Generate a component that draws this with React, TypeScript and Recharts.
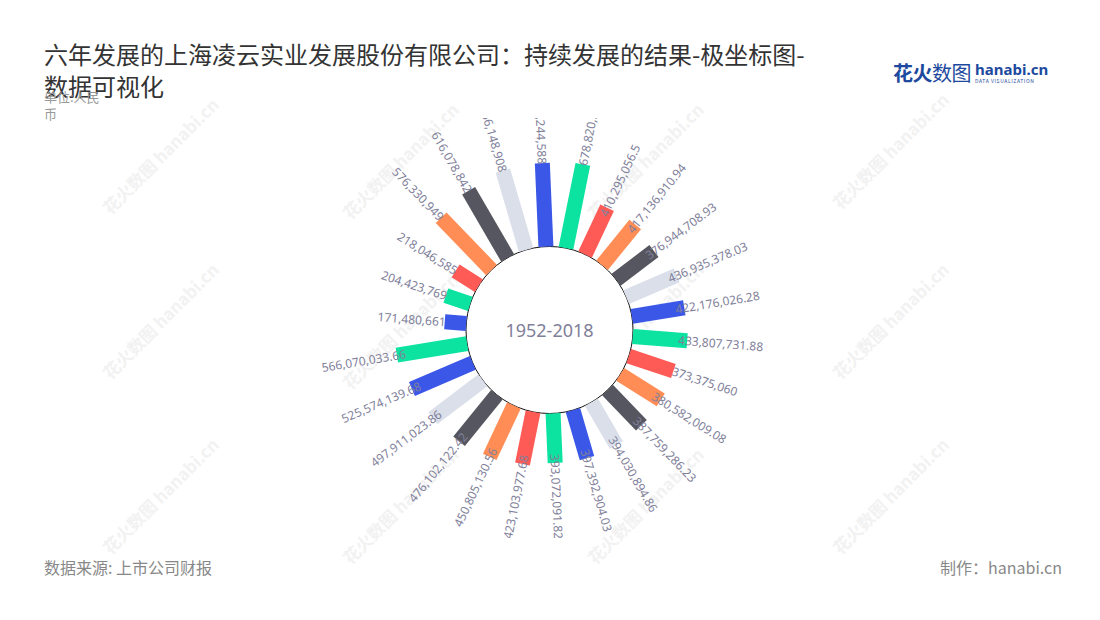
import React from 'react';
import { RadialBarChart, RadialBar, PolarAngleAxis, PolarRadiusAxis, Cell } from 'recharts';

const categories = ['1', '2', '3', '4', '5', '6', '7', '8', '9', '10', '11', '12', '13', '14', '15', '16', '17', '18', '19', '20', '21', '22', '23', '24', '25', '26'];
const values = [
  171480661, 204423769, 218046585, 576330949, 616078842, 656148908, 664244588, 678820358,
  410295056.5, 417136910.94, 376944708.93, 436935378.03, 422176026.28, 433807731.88,
  373375060, 380582009.08, 387759286.23, 394030894.86, 397392904.03, 393072091.82,
  423103977.68, 450805130.56, 476102122.42, 497911023.86, 525574139.68, 566070033.66,
];
const palette = ['#3b57e8', '#0de3a0', '#fe5b57', '#ff8d55', '#55565f', '#dadfea'];
const centerLabel = '1952-2018';

const data = categories.map((name, i) => ({ name, value: values[i] }));

const CX = 549.5;
const CY = 330;
const LABEL_COLOR = '#80809a';

const fmt = (v: number) => v.toLocaleString('en-US', { maximumFractionDigits: 2 });

const BarShape = (props: any) => {
  const { cx, cy, innerRadius, outerRadius, startAngle, endAngle, fill, payload } = props;
  const m = (startAngle + endAngle) / 2;
  const rad = (m * Math.PI) / 180;
  const ux = Math.cos(rad);
  const uy = -Math.sin(rad);
  const nx = -uy;
  const ny = ux;
  const hw = 7.5;
  const p = (r: number, s: number) => `${cx + r * ux + s * nx},${cy + r * uy + s * ny}`;
  const pts = [p(innerRadius, -hw), p(outerRadius, -hw), p(outerRadius, hw), p(innerRadius, hw)].join(' ');
  const a = ((m % 360) + 360) % 360;
  const right = a < 90 || a > 270;
  const v: number = payload.value;
  const txt = fmt(v);
  const overlap = txt.includes('.') ? 9 : 1;
  const lr = outerRadius - overlap;
  const lx = cx + lr * ux;
  const ly = cy + lr * uy;
  const rot = right ? -m : 180 - m;
  const first = payload.name === categories[0];
  return (
    <g>
      {first && (
        <g>
          <circle cx={cx} cy={cy} r={innerRadius} fill="#fff" stroke="#111" strokeWidth={1} />
          <text x={cx} y={cy} textAnchor="middle" dominantBaseline="central" fontSize={18} fill={LABEL_COLOR} fontFamily="'Noto Sans', sans-serif">
            {centerLabel}
          </text>
        </g>
      )}
      <polygon points={pts} fill={fill} />
      <text
        x={lx}
        y={ly}
        transform={`rotate(${rot} ${lx} ${ly})`}
        textAnchor={right ? 'start' : 'end'}
        dominantBaseline="central"
        fontSize={12}
        fill={LABEL_COLOR}
        fontFamily="'Noto Sans', sans-serif"
      >
        {txt}
      </text>
    </g>
  );
};

const watermarks = [
  [160, 155], [400, 160], [645, 160], [890, 150],
  [160, 320], [400, 330], [645, 320], [890, 320],
  [160, 495], [400, 505], [645, 505], [890, 495],
];

export default function App() {
  return (
    <div style={{ position: 'absolute', left: 0, top: 0, width: 1100, height: 620, background: '#fff', overflow: 'hidden', fontFamily: "'Noto Sans', 'Noto Sans CJK SC', sans-serif" }}>
      {watermarks.map(([x, y], i) => (
        <div key={i} style={{ position: 'absolute', left: x - 80, top: y - 12, width: 160, textAlign: 'center', transform: 'rotate(-45deg)', color: '#f2f2f2', fontSize: 17, fontWeight: 700, fontFamily: "'Noto Sans CJK SC', sans-serif", whiteSpace: 'nowrap' }}>
          花火数图 hanabi.cn
        </div>
      ))}
      <div style={{ position: 'absolute', left: 44, top: 38, fontSize: 24, lineHeight: '32px', color: '#333', fontFamily: "'Noto Sans CJK SC', sans-serif", whiteSpace: 'nowrap' }}>
        <div>六年发展的上海凌云实业发展股份有限公司：持续发展的结果-极坐标图-</div>
        <div>数据可视化</div>
      </div>
      <div style={{ position: 'absolute', left: 44, top: 88, width: 66, fontSize: 13, lineHeight: '17px', color: '#999', fontFamily: "'Noto Sans CJK SC', sans-serif" }}>
        单位:人民币
      </div>
      <div style={{ position: 'absolute', left: 893, top: 58, display: 'flex', alignItems: 'center', fontFamily: "'Noto Sans CJK SC', sans-serif" }}>
        <span style={{ fontSize: 20, color: '#1d4a9e', letterSpacing: -0.5 }}><b>花火</b>数图</span>
        <span style={{ display: 'flex', flexDirection: 'column', marginLeft: 4, lineHeight: 1 }}>
          <span style={{ fontSize: 15, fontWeight: 700, color: '#1d4a9e', fontFamily: "'Noto Sans', sans-serif" }}>hanabi.cn</span>
          <span style={{ fontSize: 5, color: '#1d4a9e', letterSpacing: 0.6, marginTop: 1 }}>DATA VISUALIZATION</span>
        </span>
      </div>
      <div style={{ position: 'absolute', left: 0, top: 118, width: 1100, height: 420, overflow: 'hidden' }}>
        <div style={{ marginTop: -118 }}>
          <RadialBarChart
            width={1100}
            height={620}
            data={data}
            layout="centric"
            cx={CX}
            cy={CY}
            innerRadius={83.5}
            outerRadius={171.6}
            startAngle={168.65}
            endAngle={-191.35}
            margin={{ top: 0, right: 0, bottom: 0, left: 0 }}
          >
            <PolarAngleAxis type="category" dataKey="name" tick={false} axisLine={false} tickLine={false} />
            <PolarRadiusAxis type="number" domain={[0, 700000000]} tick={false} axisLine={false} tickLine={false} />
            <RadialBar dataKey="value" isAnimationActive={false} shape={BarShape}>
              {data.map((d, i) => (
                <Cell key={d.name} fill={palette[i % palette.length]} />
              ))}
            </RadialBar>
          </RadialBarChart>
        </div>
      </div>
      <div style={{ position: 'absolute', left: 44, top: 555, fontSize: 16, color: '#888', fontFamily: "'Noto Sans CJK SC', sans-serif" }}>
        数据来源: 上市公司财报
      </div>
      <div style={{ position: 'absolute', right: 38, top: 555, fontSize: 16, color: '#888', fontFamily: "'Noto Sans CJK SC', sans-serif" }}>
        制作：hanabi.cn
      </div>
    </div>
  );
}
